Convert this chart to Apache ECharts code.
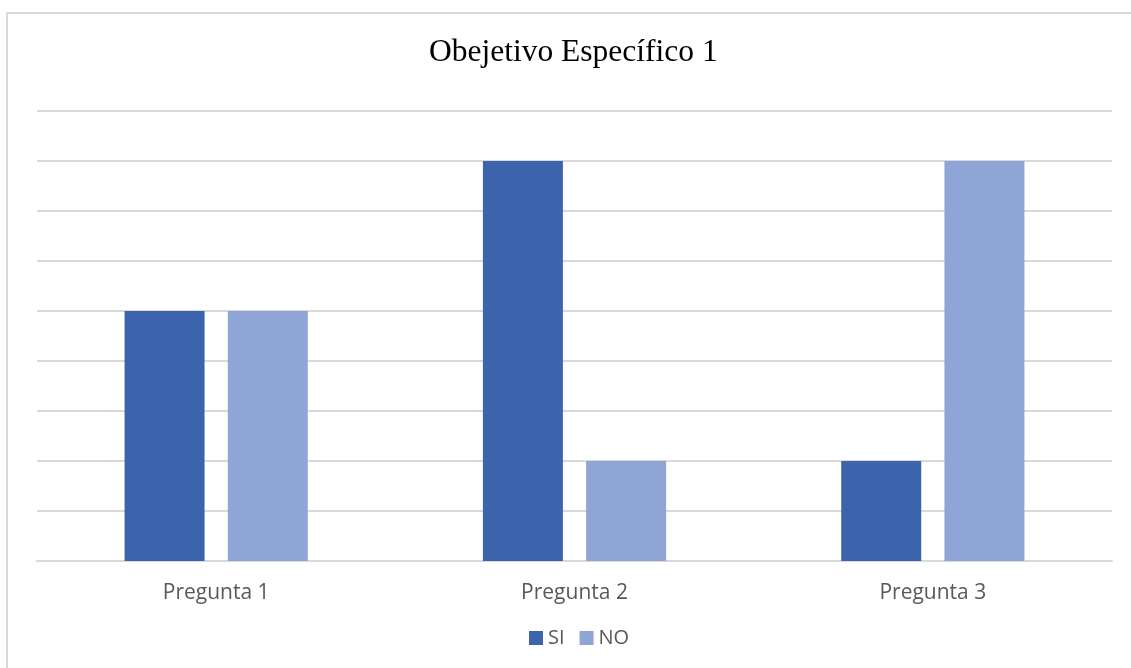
<!DOCTYPE html>
<html>
<head>
<meta charset="utf-8">
<script src="https://cdn.jsdelivr.net/npm/echarts@6/dist/echarts.min.js"></script>
<style>
html,body{margin:0;padding:0;background:#fff;overflow:hidden;}
#frame{position:absolute;left:6px;top:12px;width:1200px;height:700px;border-left:2px solid #d9d9d9;border-top:2px solid #d9d9d9;}
#main{position:absolute;left:0;top:0;width:1131px;height:668px;}
</style>
</head>
<body>
<div id="frame"></div>
<div id="main"></div>
<script>
const categories = ['Pregunta 1', 'Pregunta 2', 'Pregunta 3'];
const siValues = [5, 8, 2];
const noValues = [5, 2, 8];
const seriesNames = ['SI', 'NO'];
const titleText = 'Obejetivo Específico 1';

const chart = echarts.init(document.getElementById('main'), null, {renderer: 'canvas'});
chart.setOption({
  backgroundColor: 'transparent',
  animation: false,
  title: {
    text: titleText,
    left: 424,
    top: 32,
    textStyle: {fontFamily: '"Liberation Serif", "Times New Roman", serif', fontSize: 31.5, fontWeight: 'normal', color: '#000'}
  },
  legend: {
    data: seriesNames,
    top: 623,
    left: 524,
    itemWidth: 14,
    itemHeight: 14,
    itemGap: 15,
    icon: 'rect',
    textStyle: {fontFamily: '"Open Sans", "Noto Sans", sans-serif', fontSize: 20, color: '#595959'}
  },
  grid: {left: 37, right: 19, top: 111, bottom: 107, containLabel: false},
  xAxis: {
    type: 'category',
    data: categories,
    axisLine: {lineStyle: {color: '#d9d9d9', width: 2}},
    axisTick: {show: false},
    axisLabel: {fontFamily: '"Open Sans", "Noto Sans", sans-serif', fontSize: 21, color: '#595959', margin: 22}
  },
  yAxis: {
    type: 'value',
    min: 0,
    max: 9,
    interval: 1,
    axisLabel: {show: false},
    axisLine: {show: false},
    axisTick: {show: false},
    splitLine: {lineStyle: {color: '#d9d9d9', width: 2}}
  },
  series: [
    {name: seriesNames[0], type: 'bar', data: siValues, barWidth: 80, barGap: '29%', itemStyle: {color: '#3C64AD'}},
    {name: seriesNames[1], type: 'bar', data: noValues, barWidth: 80, itemStyle: {color: '#8FA5D5'}}
  ]
});
</script>
</body>
</html>
